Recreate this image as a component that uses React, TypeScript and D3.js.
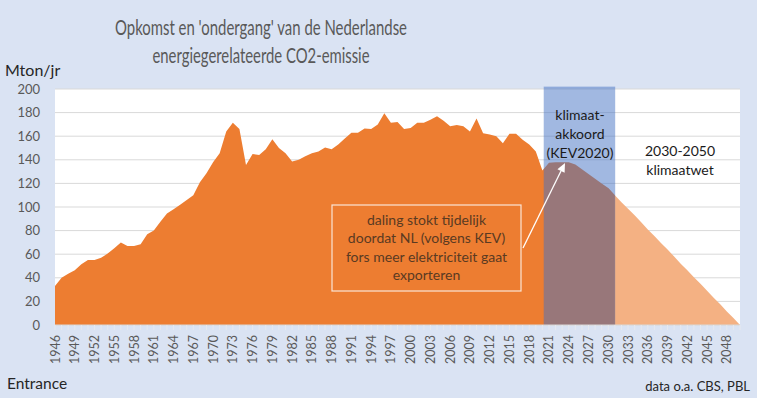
import React from 'react';
import * as d3 from 'd3';

// CO2 emissions, Mton/jr
const histStart = 1946;
const historic = [
  33, 40, 43.5, 46.5, 51.5, 55, 55, 57, 60.5, 65, 70, 67, 67, 68.5, 77, 80, 87.5, 94.5, 98, 102,
  106, 110, 121, 128.5, 138, 145.5, 164, 171.5, 166, 135.5, 145, 144, 149, 157.5, 150, 145.5, 138.5, 140, 143, 145.5,
  147, 150.5, 149, 153, 158, 163, 163, 166.5, 166, 170, 179.5, 171.5, 172, 166, 167, 171.5, 171.5, 174, 177, 173,
  168.5, 169.5, 168.5, 164, 175, 162.5, 161.5, 160, 154, 162, 162, 157, 153, 147, 131,
];
// KEV2020 projection 2021-2031
const kevStart = 2021;
const kev = [137.5, 138, 138, 138, 136, 132, 128, 124, 120, 116, 110];
// klimaatwet path 2030-2050
const wetStart = 2030;
const klimaatwet = [116, 110, 104, 98.5, 93, 87, 81, 75.5, 69.5, 64, 58, 52, 46.5, 40.5, 35, 29, 23, 17.5, 11.5, 6, 0];

const bandRange = [2020.2, 2031.05];
const bandTop = 202;

const xTickYears = d3.range(1946, 2049, 3);
const allYears = d3.range(1946, 2051);

const boxLines = ['daling stokt tijdelijk', 'doordat NL (volgens KEV)', 'fors meer elektriciteit gaat', 'exporteren'];
const bandLines = ['klimaat-', 'akkoord', '(KEV2020)'];
const wetLines = ['2030-2050', 'klimaatwet'];

const W = 757;
const H = 398;
const font = 'Lato, "Open Sans", sans-serif';

export default function App() {
  const x = d3.scaleLinear().domain([1946, 2050]).range([55, 740]);
  const y = d3.scaleLinear().domain([0, 200]).range([325, 89]);

  const orangeData = [
    ...historic.map((v, i) => ({ yr: histStart + i, v })),
    ...kev.map((v, i) => ({ yr: kevStart + i, v })),
  ];
  const wetData = klimaatwet.map((v, i) => ({ yr: wetStart + i, v }));

  const area = d3
    .area<{ yr: number; v: number }>()
    .x((d) => x(d.yr))
    .y0(y(0))
    .y1((d) => y(d.v));

  const boxX = 332, boxY = 205, boxW = 189, boxH = 86;
  const arrowFrom = [523, 248];
  const arrowTo = [565, 163];
  const ang = Math.atan2(arrowTo[1] - arrowFrom[1], arrowTo[0] - arrowFrom[0]);
  const ah = 9, aw = 4;
  const bx = arrowTo[0] - ah * Math.cos(ang), by = arrowTo[1] - ah * Math.sin(ang);
  const head = [
    [arrowTo[0], arrowTo[1]],
    [bx + aw * Math.sin(ang), by - aw * Math.cos(ang)],
    [bx - aw * Math.sin(ang), by + aw * Math.cos(ang)],
  ];

  return (
    <svg width={W} height={H} style={{ position: 'absolute', left: 0, top: 0 }} fontFamily={font}>
      <rect width={W} height={H} fill="#dae3f3" />
      {/* plot area */}
      <rect x={x(1946)} y={y(200)} width={x(2050) - x(1946)} height={y(0) - y(200)} fill="#fff" />
      {y.ticks(10).map((t) => (
        <g key={t}>
          <line x1={x(1946)} x2={x(2050)} y1={y(t)} y2={y(t)} stroke="#d9d9d9" strokeWidth={1} />
          <text x={40} y={y(t)} dy="0.35em" textAnchor="end" fontSize={13} fill="#595959">
            {t}
          </text>
        </g>
      ))}

      <path d={area(wetData) || ''} fill="#f4b183" />
      <path d={area(orangeData) || ''} fill="#ed7d31" />

      {/* klimaatakkoord band */}
      <rect
        x={x(bandRange[0])}
        y={y(bandTop)}
        width={x(bandRange[1]) - x(bandRange[0])}
        height={y(0) - y(bandTop)}
        fill="#4472c4"
        fillOpacity={0.5}
      />

      {/* x axis */}
      <line x1={x(1946)} x2={x(2050)} y1={y(0)} y2={y(0)} stroke="#d9d9d9" />
      {allYears.map((yr) => (
        <line key={yr} x1={x(yr)} x2={x(yr)} y1={y(0)} y2={y(0) + 5} stroke="#e6e9ef" />
      ))}
      {xTickYears.map((yr) => (
        <text
          key={yr}
          transform={`translate(${x(yr) + 4.5},335) rotate(-90)`}
          textAnchor="end"
          fontSize={12.5}
          fill="#595959"
        >
          {yr}
        </text>
      ))}

      {/* annotation box */}
      <rect x={boxX} y={boxY} width={boxW} height={boxH} fill="none" stroke="#fbe5d6" strokeWidth={1.2} />
      {boxLines.map((l, i) => (
        <text key={l} x={boxX + boxW / 2} y={225 + i * 18.3} textAnchor="middle" fontSize={14} fill="#5a3a22">
          {l}
        </text>
      ))}
      <line x1={arrowFrom[0]} y1={arrowFrom[1]} x2={bx} y2={by} stroke="#fff" strokeWidth={1.3} />
      <polygon points={head.map((p) => p.join(',')).join(' ')} fill="#fff" />

      {bandLines.map((l, i) => (
        <text key={l} x={580} y={120 + i * 19} textAnchor="middle" fontSize={14} fill="#1a1a1a">
          {l}
        </text>
      ))}
      {wetLines.map((l, i) => (
        <text key={l} x={680} y={156 + i * 18.7} textAnchor="middle" fontSize={14} fill="#1a1a1a">
          {l}
        </text>
      ))}

      {/* titles */}
      <text x={261} y={35} textAnchor="middle" fontSize={21} fill="#595959" textLength={292} lengthAdjust="spacingAndGlyphs">
        Opkomst en 'ondergang' van de Nederlandse
      </text>
      <text x={261} y={63} textAnchor="middle" fontSize={21} fill="#595959" textLength={217} lengthAdjust="spacingAndGlyphs">
        energiegerelateerde CO2-emissie
      </text>
      <text x={5} y={76} fontSize={16} fill="#262626">
        Mton/jr
      </text>
      <text x={7} y={389} fontSize={15.5} fill="#262626">
        Entrance
      </text>
      <text x={750} y={391} textAnchor="end" fontSize={13} fill="#262626">
        data o.a. CBS, PBL
      </text>
    </svg>
  );
}
